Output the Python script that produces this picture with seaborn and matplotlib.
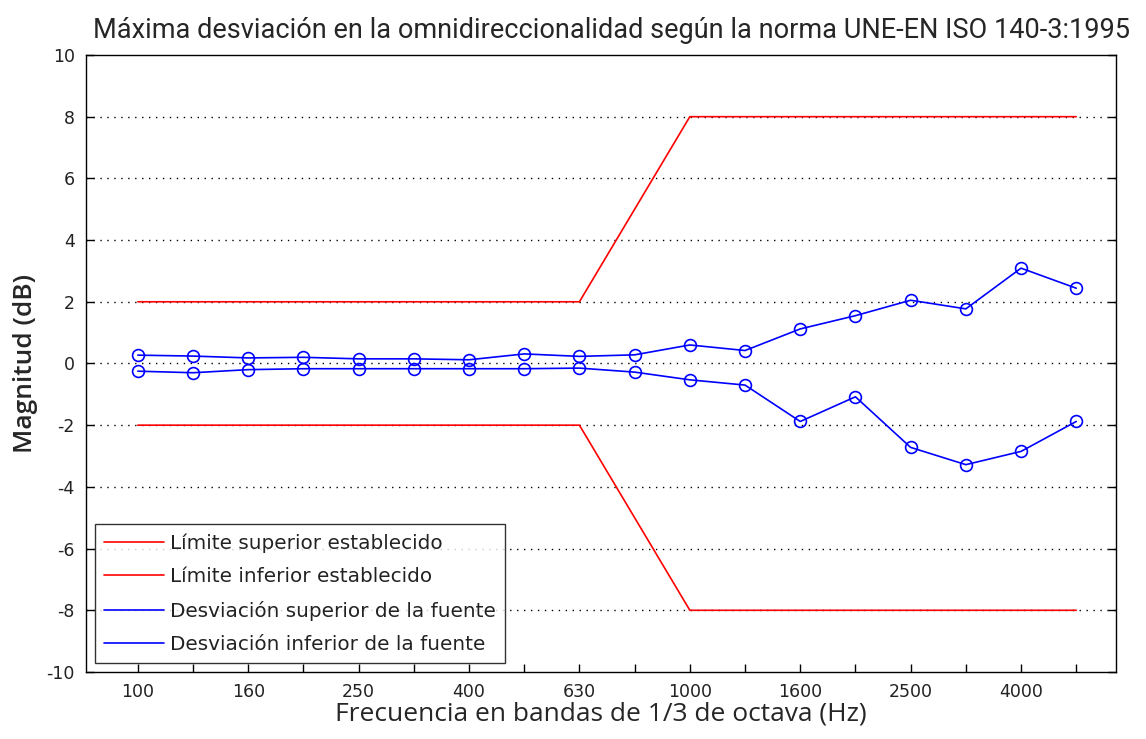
import matplotlib
matplotlib.use("Agg")
import matplotlib.pyplot as plt
import seaborn as sns
import pandas as pd

bands = ["100", "125", "160", "200", "250", "315", "400", "500", "630", "800",
         "1000", "1250", "1600", "2000", "2500", "3150", "4000", "5000"]
limite_sup = [2, 2, 2, 2, 2, 2, 2, 2, 2, 5, 8, 8, 8, 8, 8, 8, 8, 8]
limite_inf = [-2, -2, -2, -2, -2, -2, -2, -2, -2, -5, -8, -8, -8, -8, -8, -8, -8, -8]
desv_sup = [0.27, 0.24, 0.18, 0.20, 0.15, 0.15, 0.12, 0.31, 0.23, 0.28,
            0.60, 0.42, 1.12, 1.55, 2.05, 1.77, 3.09, 2.44]
desv_inf = [-0.25, -0.30, -0.20, -0.17, -0.17, -0.17, -0.17, -0.17, -0.15, -0.28,
            -0.53, -0.70, -1.88, -1.08, -2.72, -3.28, -2.85, -1.88]
shown_labels = ["100", "160", "250", "400", "630", "1000", "1600", "2500", "4000"]

sns.set_style("white")
plt.rcParams['font.family'] = ['DejaVu Sans']
plt.rcParams['axes.unicode_minus'] = False

df = pd.DataFrame({"idx": range(len(bands)), "ls": limite_sup, "li": limite_inf,
                   "ds": desv_sup, "di": desv_inf})

fig = plt.figure(figsize=(11.46, 7.39), dpi=100)
ax = fig.add_axes([0.075, 0.0907, 0.8988, 0.8349])

sns.lineplot(data=df, x="idx", y="ls", ax=ax, color="#ff0000", lw=1.2,
             label="Límite superior establecido")
sns.lineplot(data=df, x="idx", y="li", ax=ax, color="#ff0000", lw=1.2,
             label="Límite inferior establecido")
sns.lineplot(data=df, x="idx", y="ds", ax=ax, color="#0000ff", lw=1.2,
             marker="o", markersize=8.5, markerfacecolor="none",
             markeredgecolor="#0000ff", markeredgewidth=1.2,
             label="Desviación superior de la fuente")
sns.lineplot(data=df, x="idx", y="di", ax=ax, color="#0000ff", lw=1.2,
             marker="o", markersize=8.5, markerfacecolor="none",
             markeredgecolor="#0000ff", markeredgewidth=1.2,
             label="Desviación inferior de la fuente")

ax.set_xlim(-0.94, 17.72)
ax.set_ylim(-10, 10)
ax.set_xticks(range(len(bands)))
ax.set_xticklabels([b if b in shown_labels else "" for b in bands])
ax.set_yticks(range(-10, 11, 2))
ax.tick_params(axis="both", direction="in", length=6, width=1, labelsize=12.5,
               colors="black", pad=8)
ax.tick_params(axis="y", right=True, left=True)
ax.tick_params(axis="x", bottom=True, top=False)
for t in ax.get_xticklabels() + ax.get_yticklabels():
    t.set_color("#222222")

for y in range(-8, 10, 2):
    ax.axhline(y, color="black", lw=1.0, ls=(0, (1, 4)), zorder=0)

for s in ax.spines.values():
    s.set_color("black")
    s.set_linewidth(1.0)

ax.set_xlabel("Frecuencia en bandas de 1/3 de octava (Hz)", fontsize=19,
              family=["Open Sans", "DejaVu Sans"], labelpad=0)
ax.set_ylabel("Magnitud (dB)", fontsize=19, family=["Open Sans", "DejaVu Sans"],
              fontweight="semibold", labelpad=6)
ax.set_title("Máxima desviación en la omnidireccionalidad según la norma UNE-EN ISO 140-3:1995",
             fontsize=19.5, family=["Roboto", "DejaVu Sans"], pad=12, x=0.51)

leg = ax.legend(loc="lower left", bbox_to_anchor=(0.0087, 0.0146), fontsize=14.4,
                frameon=True, fancybox=False, edgecolor="black",
                handlelength=3.0, handletextpad=0.3, borderpad=0.45,
                labelspacing=0.72, borderaxespad=0)
leg.get_frame().set_linewidth(1.0)
for h in leg.legend_handles:
    h.set_marker("")
for t in leg.get_texts():
    t.set_color("#222222")

fig.savefig("out.png", dpi=100)
